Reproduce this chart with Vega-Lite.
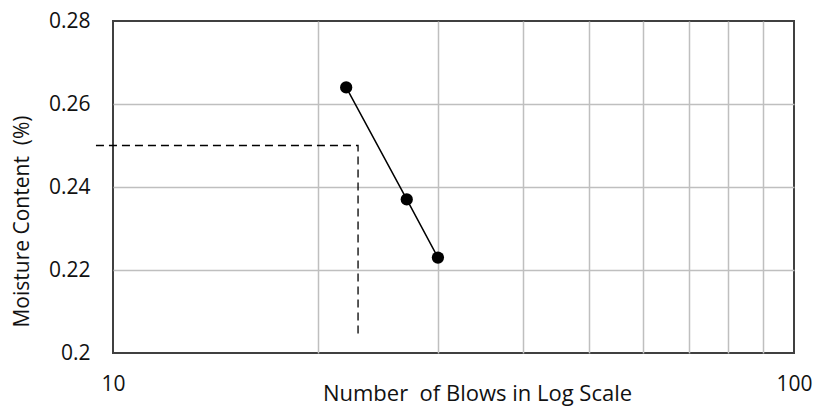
{
  "$schema": "https://vega.github.io/schema/vega-lite/v6.json",
  "width": 681,
  "height": 332,
  "autosize": "none",
  "padding": {"left": 113, "top": 21, "right": 20, "bottom": 55},
  "background": "white",
  "config": {
    "view": {"stroke": "#404040", "strokeWidth": 2},
    "font": "Open Sans",
    "axis": {"labelFont": "Open Sans", "titleFont": "Open Sans", "labelColor": "#111", "titleColor": "#111", "titleFontWeight": "normal"}
  },
  "datasets": {
    "pts": [
      {"blows": 22, "mc": 0.264},
      {"blows": 27, "mc": 0.237},
      {"blows": 30, "mc": 0.223}
    ],
    "guide": [
      {"k": 1, "blows": 9.44, "mc": 0.25},
      {"k": 2, "blows": 22.9, "mc": 0.25},
      {"k": 3, "blows": 22.9, "mc": 0.2043}
    ]
  },
  "layer": [
    {
      "data": {"name": "guide"},
      "mark": {"type": "line", "color": "#000", "strokeWidth": 1.3, "strokeDash": [8, 5], "clip": false},
      "encoding": {
        "x": {
          "field": "blows", "type": "quantitative",
          "scale": {"type": "log", "domain": [10, 100], "nice": false},
          "axis": {
            "values": [10, 20, 30, 40, 50, 60, 70, 80, 90, 100],
            "labelExpr": "datum.value == 10 || datum.value == 100 ? datum.label : ''",
            "format": "d",
            "grid": true,
            "gridColor": "#bfbfbf",
            "gridWidth": 1.5,
            "gridOpacity": {"condition": {"test": "datum.value == 10 || datum.value == 100", "value": 0}, "value": 1},
            "ticks": false,
            "domain": false,
            "labelFontSize": 21,
            "labelPadding": 20,
            "labelFlush": false,
            "labelBound": false,
            "labelOverlap": false,
            "title": "Number\u00a0 of Blows in Log Scale",
            "titleFontSize": 22,
            "titleX": 364,
            "titleY": 30,
            "titleBaseline": "top"
          }
        },
        "y": {
          "field": "mc", "type": "quantitative",
          "scale": {"domain": [0.2, 0.28], "nice": false, "zero": false},
          "axis": {
            "values": [0.2, 0.22, 0.24, 0.26, 0.28],
            "format": ".2~f",
            "grid": true,
            "gridColor": "#bfbfbf",
            "gridWidth": 1.5,
            "gridOpacity": {"condition": {"test": "datum.value < 0.201 || datum.value > 0.279", "value": 0}, "value": 1},
            "ticks": false,
            "domain": false,
            "labelFontSize": 21,
            "labelPadding": 23,
            "labelFlush": false,
            "title": "Moisture Content\u00a0 (%)",
            "titleFontSize": 21,
            "titleAngle": -90,
            "titleBaseline": "middle",
            "titleX": -91,
            "titleY": 200
          }
        },
        "order": {"field": "k"}
      }
    },
    {
      "data": {"name": "pts"},
      "mark": {"type": "line", "color": "#000", "strokeWidth": 1.5},
      "encoding": {
        "x": {"field": "blows", "type": "quantitative"},
        "y": {"field": "mc", "type": "quantitative"}
      }
    },
    {
      "data": {"name": "pts"},
      "mark": {"type": "point", "filled": true, "color": "#000", "opacity": 1, "size": 150},
      "encoding": {
        "x": {"field": "blows", "type": "quantitative"},
        "y": {"field": "mc", "type": "quantitative"}
      }
    }
  ]
}
